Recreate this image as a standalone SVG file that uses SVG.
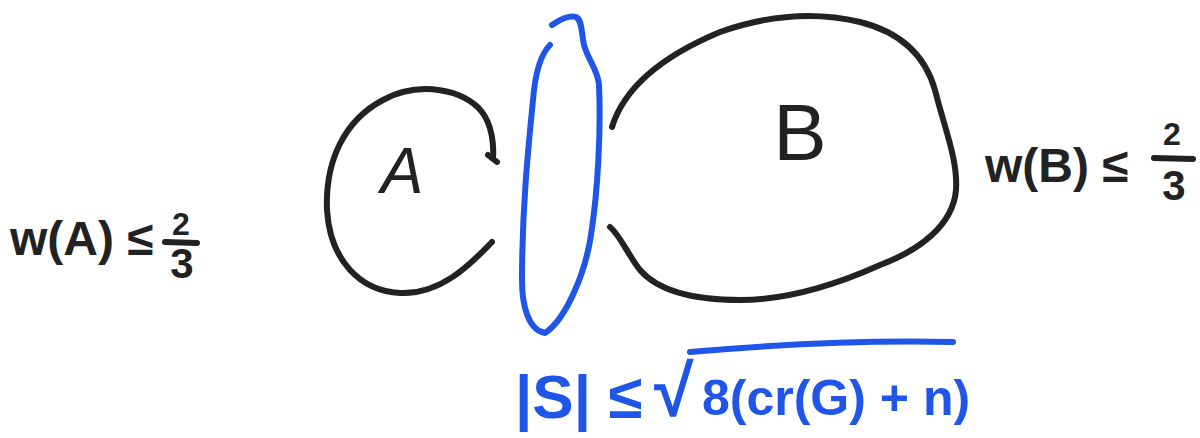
<svg xmlns="http://www.w3.org/2000/svg" width="1200" height="438" viewBox="0 0 1200 438">
<style>
.ink{fill:none;stroke:#222;stroke-width:6;stroke-linecap:round;stroke-linejoin:round}
.blue{fill:none;stroke:#1f55e8;stroke-width:6;stroke-linecap:round;stroke-linejoin:round}
.t{font-family:"Liberation Sans",Arial,sans-serif;font-weight:bold;fill:#222}
.tn{font-family:"Liberation Sans",Arial,sans-serif;font-weight:normal;fill:#222}
.tb{font-family:"Liberation Sans",Arial,sans-serif;font-weight:bold;fill:#1f55e8}
</style>
<rect width="1200" height="438" fill="#fff"/>
<g id="nodeA">
<path class="ink" d="M492,242 C470,265 440,295 400,293 C360,291 330,260 327,210 C325,160 345,120 383,100 C420,80 465,90 482,112 C492,125 494,145 493,158"/>
<path class="ink" stroke-width="4" d="M488,155 L497,162"/>
<text class="tn" x="402" y="193" font-size="64" font-style="italic" text-anchor="middle">A</text>
</g>
<g id="nodeB">
<path class="ink" d="M612,127 C625,85 665,55 720,32 C760,18 810,10 860,22 C900,32 925,55 935,90 C945,130 958,160 956,190 C953,225 920,250 880,265 C840,283 790,300 740,300 C700,300 660,293 640,270 C628,255 620,235 610,227"/>
<text class="tn" x="800" y="160" font-size="80" text-anchor="middle">B</text>
</g>
<g id="separatorS">
<path class="blue" d="M552,25 C560,19 570,15 576,17 C582,20 581,30 584,45 C588,60 598,70 599,85 C601,130 598,190 591,235 C585,275 565,320 545,333 C528,330 522,305 522,280 C522,210 528,150 533,100 C535,75 540,55 550,45"/>
</g>
<g id="labelA">
<text class="t" x="10" y="255" font-size="48">w(A) ≤</text>
<text class="t" x="181" y="235" font-size="32" text-anchor="middle">2</text>
<path class="ink" stroke-width="4" d="M165,242 L197,243"/>
<text class="t" x="182" y="278" font-size="42" text-anchor="middle">3</text>
</g>
<g id="labelB">
<text class="t" x="985" y="182" font-size="48">w(B) ≤</text>
<text class="t" x="1172" y="145" font-size="32" text-anchor="middle">2</text>
<path class="ink" stroke-width="4" d="M1154,158 L1193,159"/>
<text class="t" x="1174" y="200" font-size="42" text-anchor="middle">3</text>
</g>
<g id="labelS">
<text class="tb" x="515" y="418" font-size="62">|S| ≤</text>
<text class="tb" x="654" y="416" font-size="72">√</text>
<path class="blue" stroke-width="7" d="M690,352 C770,345 870,340 953,342"/>
<text class="tb" x="702" y="415" font-size="50">8(cr(G) + n)</text>
</g>
</svg>
